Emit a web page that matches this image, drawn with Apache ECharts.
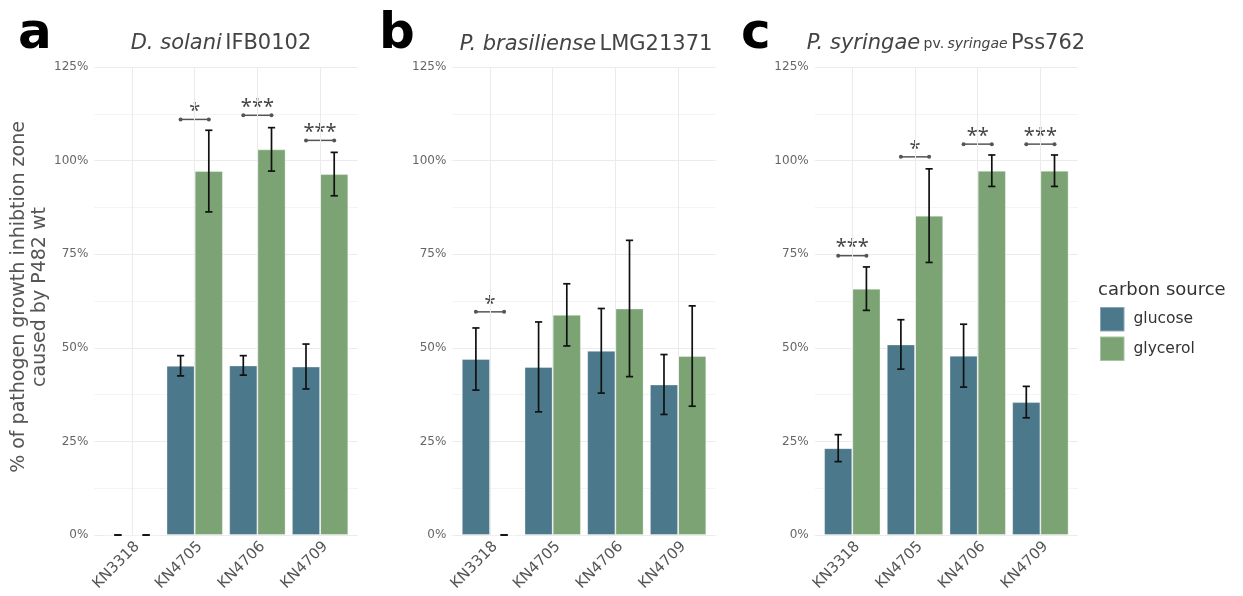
<!DOCTYPE html>
<html><head><meta charset="utf-8">
<script src="https://cdn.jsdelivr.net/npm/echarts@6/dist/echarts.min.js"></script>
<style>html,body{margin:0;padding:0;background:#fff}#c{width:1243px;height:596px}</style>
</head><body><div id="c"></div>
<script>
// ---------- data ----------
const categories = ['KN3318', 'KN4705', 'KN4706', 'KN4709'];
const seriesNames = ['glucose', 'glycerol'];
const yTickValues = [0, 25, 50, 75, 100, 125];

const aGlucose = [0, 45.2, 45.3, 45.0];
const aGlucoseErr = [0, 2.7, 2.6, 6.0];
const aGlycerol = [0, 97.2, 103.0, 96.4];
const aGlycerolErr = [0, 10.9, 5.8, 5.8];
const aSigLabel = [null, '*', '***', '***'];
const aSigY = [null, 111.0, 112.1, 105.4];

const bGlucose = [47.0, 44.9, 49.2, 40.2];
const bGlucoseErr = [8.3, 12.0, 11.3, 8.0];
const bGlycerol = [0, 58.8, 60.5, 47.8];
const bGlycerolErr = [0, 8.3, 18.2, 13.4];
const bSigLabel = ['*', null, null, null];
const bSigY = [59.6, null, null, null];

const cGlucose = [23.2, 50.9, 47.9, 35.5];
const cGlucoseErr = [3.6, 6.6, 8.4, 4.2];
const cGlycerol = [65.8, 85.3, 97.3, 97.3];
const cGlycerolErr = [5.8, 12.5, 4.2, 4.2];
const cSigLabel = ['***', '*', '**', '***'];
const cSigY = [74.6, 101.0, 104.4, 104.4];

// ---------- layout / style ----------
const FONT = 'DejaVu Sans';
const COLORS = ['#4b788b', '#7ba373'];
const UNIT = 62.7;
const TOP = 67, HEIGHT = 468;
const panels = [
  {c1: 132.0, glu: aGlucose, gluE: aGlucoseErr, gly: aGlycerol, glyE: aGlycerolErr, sig: aSigLabel, sigY: aSigY},
  {c1: 490.0, glu: bGlucose, gluE: bGlucoseErr, gly: bGlycerol, glyE: bGlycerolErr, sig: bSigLabel, sigY: bSigY},
  {c1: 852.3, glu: cGlucose, gluE: cGlucoseErr, gly: cGlycerol, glyE: cGlycerolErr, sig: cSigLabel, sigY: cSigY}
];

function errRender(side) {
  return function (params, api) {
    const i = api.value(0), v = api.value(1), e = api.value(2);
    const band = api.size([1, 0])[0];
    const dx = side * band * 0.225;
    const top = api.coord([i, v + e]);
    const bot = api.coord([i, v - e]);
    const x = top[0] + dx;
    const hw = 3.6;
    const st = {stroke: '#111', lineWidth: 1.7};
    return {type: 'group', children: [
      {type: 'line', shape: {x1: x, y1: top[1], x2: x, y2: bot[1]}, style: st},
      {type: 'line', shape: {x1: x - hw, y1: top[1], x2: x + hw, y2: top[1]}, style: st},
      {type: 'line', shape: {x1: x - hw, y1: bot[1], x2: x + hw, y2: bot[1]}, style: st}
    ]};
  };
}
function sigRender(labels) {
  return function (params, api) {
    const i = api.value(0), y = api.value(1);
    const band = api.size([1, 0])[0];
    const p = api.coord([i, y]);
    const dx = band * 0.225;
    const c = '#555';
    return {type: 'group', children: [
      {type: 'line', shape: {x1: p[0] - dx, y1: p[1], x2: p[0] + dx, y2: p[1]}, style: {stroke: c, lineWidth: 1.5}},
      {type: 'circle', shape: {cx: p[0] - dx, cy: p[1], r: 2}, style: {fill: c}},
      {type: 'circle', shape: {cx: p[0] + dx, cy: p[1], r: 2}, style: {fill: c}},
      {type: 'text', style: {text: labels[i], x: p[0], y: p[1] - 8, align: 'center', verticalAlign: 'middle',
        fontSize: 20, fontFamily: 'Noto Sans', fill: '#444'}}
    ]};
  };
}

const grid = [], xAxis = [], yAxis = [], series = [];
panels.forEach((p, k) => {
  const gi = 2 * k, bi = 2 * k + 1;
  grid.push({left: p.c1 - 0.6 * UNIT, width: 4.2 * UNIT, top: TOP, height: HEIGHT});
  grid.push({left: p.c1 - 0.5 * UNIT, width: 4 * UNIT, top: TOP, height: HEIGHT});
  xAxis.push({gridIndex: gi, type: 'value', min: 0, max: 1, show: false});
  xAxis.push({gridIndex: bi, type: 'category', data: categories,
    axisLine: {show: false}, axisTick: {show: false}, splitLine: {show: false},
    axisLabel: {rotate: 45, fontSize: 15, color: '#555', fontFamily: FONT, margin: 4, interval: 0, verticalAlign: 'top'}});
  yAxis.push({gridIndex: gi, type: 'value', min: yTickValues[0], max: yTickValues[yTickValues.length - 1], interval: 25,
    axisLine: {show: false}, axisTick: {show: false},
    axisLabel: {formatter: '{value}%', fontSize: 12, color: '#666', fontFamily: FONT, margin: 6},
    splitLine: {lineStyle: {color: '#ebebeb', width: 1}},
    minorTick: {show: false, splitNumber: 2},
    minorSplitLine: {show: true, lineStyle: {color: '#f4f4f4', width: 1}}});
  yAxis.push({gridIndex: bi, type: 'value', min: 0, max: 125, show: false, splitLine: {show: false}});

  series.push({type: 'line', xAxisIndex: bi, yAxisIndex: bi, data: [], z: 1, silent: true,
    markLine: {silent: true, symbol: ['none', 'none'], label: {show: false},
      lineStyle: {color: '#ebebeb', width: 1, type: 'solid'},
      data: categories.map(c => ({xAxis: c}))}});
  [[p.glu, p.gluE, -1], [p.gly, p.glyE, 1]].forEach((d, s) => {
    series.push({type: 'bar', name: seriesNames[s], xAxisIndex: bi, yAxisIndex: bi, data: d[0],
      barWidth: '45%', barGap: '0%', z: 2,
      itemStyle: {color: COLORS[s], borderColor: 'rgba(255,255,255,0.35)', borderWidth: 1}});
  });
  [[p.glu, p.gluE, -1], [p.gly, p.glyE, 1]].forEach(d => {
    series.push({type: 'custom', xAxisIndex: bi, yAxisIndex: bi, z: 3, silent: true,
      renderItem: errRender(d[2]), data: d[0].map((v, i) => [i, v, d[1][i]])});
  });
  const sigData = [];
  p.sigY.forEach((y, i) => { if (y != null) sigData.push([i, y]); });
  series.push({type: 'custom', xAxisIndex: bi, yAxisIndex: bi, z: 3, silent: true,
    renderItem: sigRender(p.sig), data: sigData});
});

const titleTxt = {fill: '#444', fontFamily: FONT, fontSize: 21};
const smallTxt = {fill: '#444', fontFamily: FONT, fontSize: 14};
const graphic = [
  {type: 'text', x: 18, y: 35, style: {text: 'a', fontSize: 50, fontWeight: 'bold', fontFamily: FONT, fill: '#000', verticalAlign: 'middle'}},
  {type: 'text', x: 379, y: 35, style: {text: 'b', fontSize: 50, fontWeight: 'bold', fontFamily: FONT, fill: '#000', verticalAlign: 'middle'}},
  {type: 'text', x: 741, y: 35, style: {text: 'c', fontSize: 50, fontWeight: 'bold', fontFamily: FONT, fill: '#000', verticalAlign: 'middle'}},
  {type: 'text', x: 221, y: 44, style: {text: '{i|D. solani} {n|IFB0102}', align: 'center', verticalAlign: 'middle',
    rich: {i: Object.assign({fontStyle: 'italic'}, titleTxt), n: Object.assign({}, titleTxt)}}},
  {type: 'text', x: 586, y: 45, style: {text: '{i|P. brasiliense} {n|LMG21371}', align: 'center', verticalAlign: 'middle',
    rich: {i: Object.assign({fontStyle: 'italic'}, titleTxt), n: Object.assign({}, titleTxt)}}},
  {type: 'text', x: 946, y: 44, style: {text: '{i|P. syringae} {s|pv.} {si|syringae} {n|Pss762}', align: 'center', verticalAlign: 'middle',
    rich: {i: Object.assign({fontStyle: 'italic'}, titleTxt), n: Object.assign({}, titleTxt),
      s: Object.assign({}, smallTxt), si: Object.assign({fontStyle: 'italic'}, smallTxt)}}},
  {type: 'text', x: 30, y: 297, rotation: Math.PI / 2, style: {text: '% of pathogen growth inhibtion zone\ncaused by P482 wt',
    align: 'center', verticalAlign: 'middle', fontSize: 19, lineHeight: 21, fontFamily: FONT, fill: '#555'}},
  {type: 'text', x: 1098, y: 290, style: {text: 'carbon source', fontSize: 18, fontFamily: FONT, fill: '#333', verticalAlign: 'middle'}}
];

const chart = echarts.init(document.getElementById('c'), null, {renderer: 'canvas'});
chart.setOption({
  animation: false,
  backgroundColor: '#fff',
  grid, xAxis, yAxis, series, graphic,
  legend: {data: seriesNames, orient: 'vertical', left: 1099, top: 306, padding: 0, itemWidth: 24.5, itemHeight: 24.5, itemGap: 3,
    icon: 'rect', selectedMode: false, textStyle: {fontSize: 15.5, color: '#333', fontFamily: FONT, padding: [0, 0, 0, 4]}}
});
</script></body></html>
